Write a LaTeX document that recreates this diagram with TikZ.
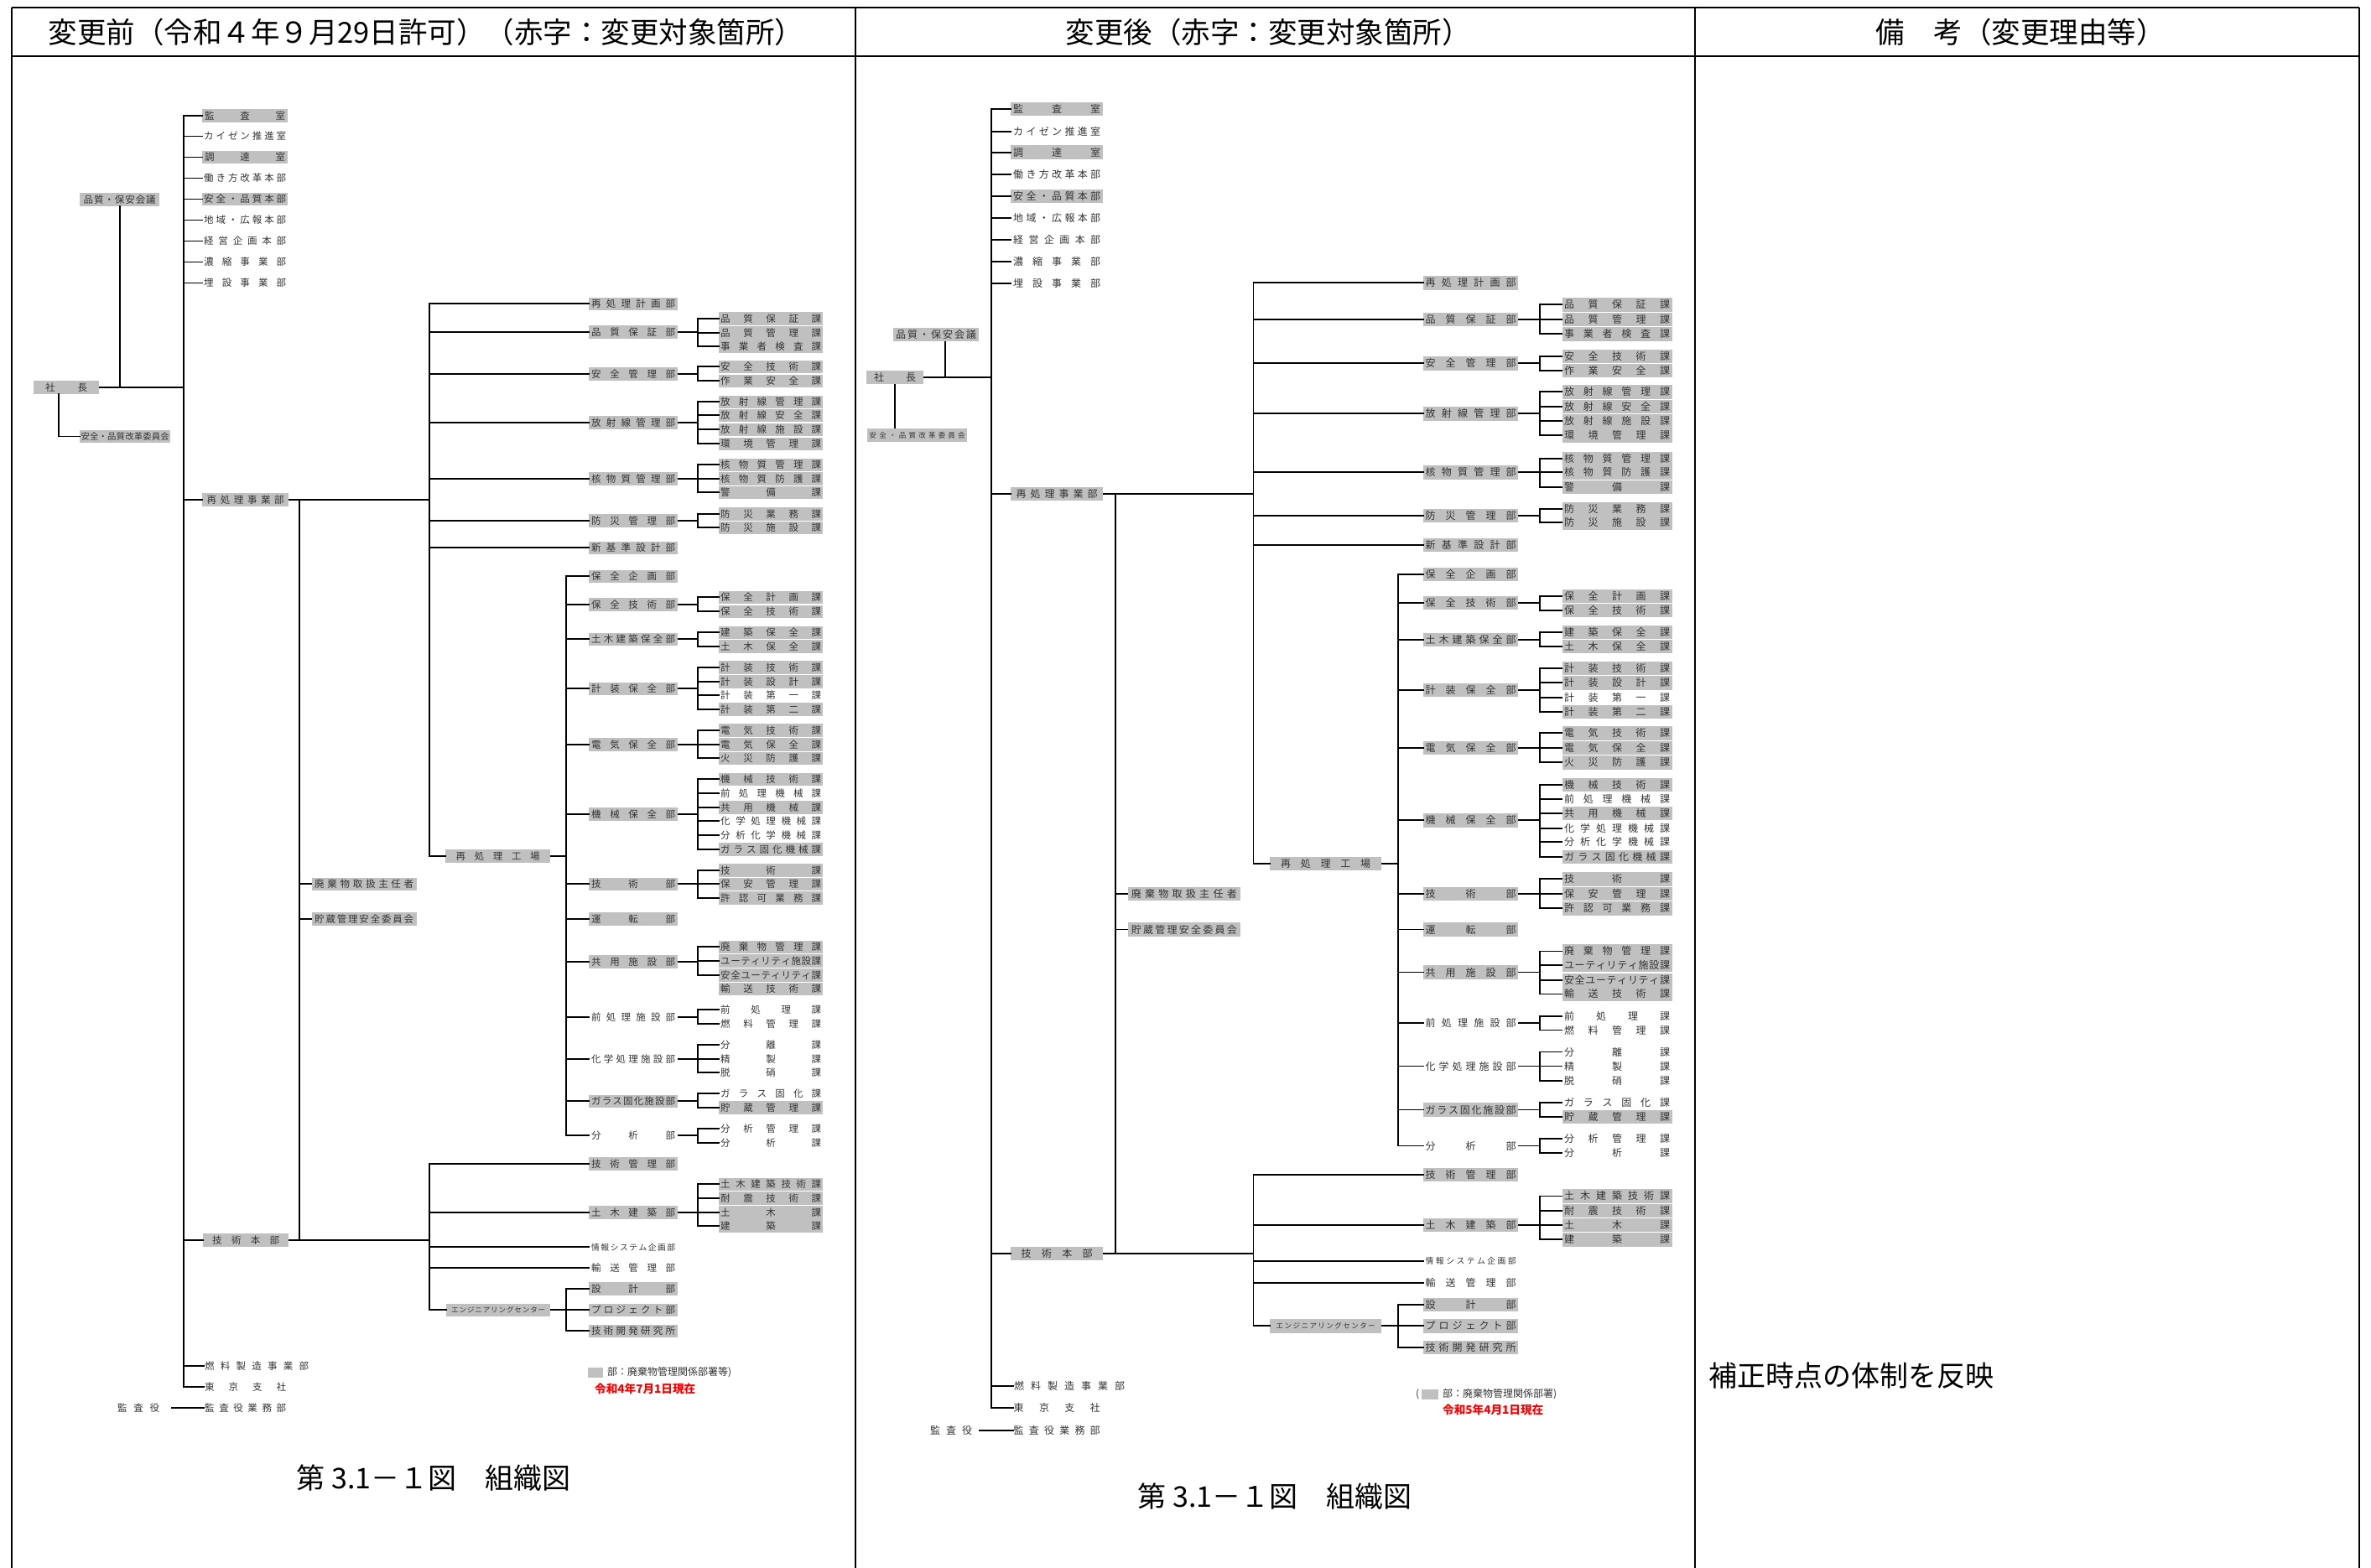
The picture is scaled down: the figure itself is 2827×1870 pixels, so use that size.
\documentclass[tikz,border=0pt]{standalone}
\usepackage{fontspec}
\setmainfont{Noto Sans CJK JP}
\definecolor{boxg}{HTML}{C0C0C0}
\definecolor{labc}{HTML}{333333}
\def\spr#1{\sprA#1\relax}
\def\sprA#1{#1\sprB}
\def\sprB#1{\ifx\relax#1\else\hfill#1\expandafter\sprB\fi}
\newcommand\olab[7][]{\node[labst,minimum width=#5pt,#1] (#2) at (#3,#4) {\makebox[#6pt][s]{\spr{#7}}};}
\newcommand\Lbu[4][]{\olab[#1]{#2}{702}{#3}{106}{100}{#4}}
\newcommand\Lka[4][]{\olab[#1]{#2}{857}{#3}{124}{120}{#4}}
\newcommand\Rbu[4][]{\olab[#1]{#2}{1697}{#3}{113}{108}{#4}}
\newcommand\Rka[4][]{\olab[#1]{#2}{1862.3}{#3}{131}{126}{#4}}
\newcommand\orgtree[5]{%
 \draw[conn] (#1.east) -- (#1.east -| #2);
 \draw[conn] (#3.west -| #2) -- (#4.west -| #2);
 \foreach \c in {#5} {\draw[conn] (\c.west -| #2) -- (\c.west);}
}
\begin{document}
\begin{tikzpicture}[x=1pt,y=-1pt,
 labst/.style={anchor=west, inner sep=0pt, minimum height=15.6pt, text=labc, font=\fontsize{11.5}{12}\selectfont},
 gb/.style={fill=boxg},
 fsm/.style={font=\fontsize{9.8}{10}\selectfont},
 fxs/.style={font=\fontsize{8.5}{9}\selectfont},
 conn/.style={line width=1.7pt, line cap=rect},
 frm/.style={line width=2.6pt},
 hdr/.style={font=\fontsize{34.5}{35}\selectfont, inner sep=0pt},
 captxt/.style={font=\fontsize{34}{34}\selectfont, inner sep=0pt},
 legt/.style={anchor=west, inner sep=0pt, text=labc, font=\fontsize{12}{12}\selectfont},
 redt/.style={anchor=west, inner sep=0pt, text=red, font=\bfseries\fontsize{13.6}{14}\selectfont}]
\useasboundingbox (0,0) rectangle (2827,1870);
\fill[white] (0,0) rectangle (2827,1870);
% ---------- frame ----------
\draw[frm] (14,9) -- (2813,9);
\draw[frm] (14,67) -- (2813,67);
\draw[frm] (14,9) -- (14,1870);
\draw[frm] (1020,9) -- (1020,1870);
\draw[frm] (2021,9) -- (2021,1870);
\draw[frm] (2813,9) -- (2813,1870);
\node[hdr] (h1) at (508,38) {変更前（令和４年９月29日許可）（赤字：変更対象箇所）};
\node[hdr] (h2) at (1512,38) {変更後（赤字：変更対象箇所）};
\node[hdr] (h3) at (2409,38) {備　考（変更理由等）};
\node[captxt] (capL) at (517,1763) {第 3.1－１図　組織図};
\node[captxt] (capR) at (1520,1785) {第 3.1－１図　組織図};
\node[captxt,anchor=west] (rem) at (2037,1641) {補正時点の体制を反映};

% ================= LEFT CHART =================
\coordinate (LB0) at (218.7,0);
\coordinate (LB1) at (512,0);
\coordinate (LB2) at (357,0);
\coordinate (LB4) at (832.3,0);
\coordinate (LB5) at (675,0);
\olab[gb]{Lt1}{241}{138}{102}{96}{監査室}
\olab{Lt2}{241}{162.5}{102}{98}{カイゼン推進室}
\olab[gb]{Lt3}{241}{187.5}{102}{96}{調達室}
\olab{Lt4}{241}{212.5}{102}{98}{働き方改革本部}
\olab[gb]{Lt5}{241}{237.5}{102}{98}{安全・品質本部}
\olab{Lt6}{241}{262.5}{102}{98}{地域・広報本部}
\olab{Lt7}{241}{287.5}{102}{98}{経営企画本部}
\olab{Lt8}{241}{312.5}{102}{98}{濃縮事業部}
\olab{Lt9}{241}{337.5}{102}{98}{埋設事業部}
\olab[gb]{Lsha}{40}{462}{78}{50}{社長}
\olab[gb]{Lhin}{95}{238}{95}{86}{品質・保安会議}
\olab[gb,font=\fontsize{10.4}{11}\selectfont]{Lkai}{95}{520.5}{108}{105}{安全・品質改革委員会}
\olab[gb]{Lsai}{241}{596}{103}{92}{再処理事業部}
\olab[gb]{Lghb}{242}{1479}{102}{80}{技術本部}
\olab{Lnen}{243}{1629}{126}{124}{燃料製造事業部}
\olab{Ltok}{243}{1654}{99}{97}{東京支社}
\olab{Lkyk}{140}{1679}{50}{50}{監査役}
\olab{Lkgm}{243}{1679}{99}{97}{監査役業務部}
\orgtree{Lsha}{LB0}{Lt1}{Ltok}{Lt1,Lt2,Lt3,Lt4,Lt5,Lt6,Lt7,Lt8,Lt9,Lsai,Lghb,Lnen,Ltok}
\draw[conn] (Lhin.south) -- (Lhin.south |- Lsha.east);
\coordinate (Lsv) at ([xshift=-9pt]Lsha.south);
\draw[conn] (Lkai.west) -| (Lsv);
\draw[conn] ([xshift=14pt]Lkyk.east) -- (Lkgm.west);
% 再処理事業部
\Lbu[gb]{Lb1}{362.3}{再処理計画部}
\Lbu[gb]{Lb2}{396}{品質保証部}
\Lbu[gb]{Lb3}{446}{安全管理部}
\Lbu[gb]{Lb4}{504}{放射線管理部}
\Lbu[gb]{Lb5}{570.7}{核物質管理部}
\Lbu[gb]{Lb6}{620.7}{防災管理部}
\Lbu[gb]{Lb7}{653.3}{新基準設計部}
\olab[gb]{Lkojo}{531}{1020.7}{125}{100}{再処理工場}
\orgtree{Lsai}{LB1}{Lb1}{Lkojo}{Lb1,Lb2,Lb3,Lb4,Lb5,Lb6,Lb7,Lkojo}
\Lka[gb]{Lk1}{380}{品質保証課}
\Lka[gb]{Lk2}{396.7}{品質管理課}
\Lka[gb]{Lk3}{412.7}{事業者検査課}
\orgtree{Lb2}{LB4}{Lk1}{Lk3}{Lk1,Lk2,Lk3}
\Lka[gb]{Lk4}{437.3}{安全技術課}
\Lka[gb]{Lk5}{454.3}{作業安全課}
\orgtree{Lb3}{LB4}{Lk4}{Lk5}{Lk4,Lk5}
\Lka[gb]{Lk6}{479.3}{放射線管理課}
\Lka[gb]{Lk7}{495.3}{放射線安全課}
\Lka[gb]{Lk8}{512.3}{放射線施設課}
\Lka[gb]{Lk9}{529.3}{環境管理課}
\orgtree{Lb4}{LB4}{Lk6}{Lk9}{Lk6,Lk7,Lk8,Lk9}
\Lka[gb]{Lk10}{554.3}{核物質管理課}
\Lka[gb]{Lk11}{570.7}{核物質防護課}
\Lka[gb]{Lk12}{587.3}{警備課}
\orgtree{Lb5}{LB4}{Lk10}{Lk12}{Lk10,Lk11,Lk12}
\Lka[gb]{Lk13}{612.7}{防災業務課}
\Lka[gb]{Lk14}{629.3}{防災施設課}
\orgtree{Lb6}{LB4}{Lk13}{Lk14}{Lk13,Lk14}
% 再処理工場
\Lbu[gb]{Lc1}{687.3}{保全企画部}
\Lbu[gb]{Lc2}{721}{保全技術部}
\Lbu[gb]{Lc3}{762.3}{土木建築保全部}
\Lbu[gb]{Lc4}{821.3}{計装保全部}
\Lbu[gb]{Lc5}{887.7}{電気保全部}
\Lbu[gb]{Lc6}{971}{機械保全部}
\Lbu[gb]{Lc7}{1054.3}{技術部}
\Lbu[gb]{Lc8}{1096}{運転部}
\Lbu[gb]{Lc9}{1146.7}{共用施設部}
\Lbu{Lc10}{1212.7}{前処理施設部}
\Lbu{Lc11}{1262.7}{化学処理施設部}
\Lbu[gb]{Lc12}{1313.3}{ガラス固化施設部}
\Lbu{Lc13}{1354.3}{分析部}
\orgtree{Lkojo}{LB5}{Lc1}{Lc13}{Lc1,Lc2,Lc3,Lc4,Lc5,Lc6,Lc7,Lc8,Lc9,Lc10,Lc11,Lc12,Lc13}
\Lka[gb]{Lm1}{712.3}{保全計画課}
\Lka[gb]{Lm2}{729.3}{保全技術課}
\orgtree{Lc2}{LB4}{Lm1}{Lm2}{Lm1,Lm2}
\Lka[gb]{Lm3}{754.3}{建築保全課}
\Lka[gb]{Lm4}{771}{土木保全課}
\orgtree{Lc3}{LB4}{Lm3}{Lm4}{Lm3,Lm4}
\Lka[gb]{Lm5}{796}{計装技術課}
\Lka[gb]{Lm6}{812.7}{計装設計課}
\Lka{Lm7}{829.3}{計装第一課}
\Lka[gb]{Lm8}{846}{計装第二課}
\orgtree{Lc4}{LB4}{Lm5}{Lm8}{Lm5,Lm6,Lm7,Lm8}
\Lka[gb]{Lm9}{871}{電気技術課}
\Lka[gb]{Lm10}{887.7}{電気保全課}
\Lka[gb]{Lm11}{904.3}{火災防護課}
\orgtree{Lc5}{LB4}{Lm9}{Lm11}{Lm9,Lm10,Lm11}
\Lka[gb]{Lm12}{929.3}{機械技術課}
\Lka{Lm13}{946}{前処理機械課}
\Lka[gb]{Lm14}{962.7}{共用機械課}
\Lka{Lm15}{979.3}{化学処理機械課}
\Lka{Lm16}{996}{分析化学機械課}
\Lka[gb]{Lm17}{1012.7}{ガラス固化機械課}
\orgtree{Lc6}{LB4}{Lm12}{Lm17}{Lm12,Lm13,Lm14,Lm15,Lm16,Lm17}
\Lka[gb]{Lm18}{1037.7}{技術課}
\Lka[gb]{Lm19}{1054.3}{保安管理課}
\Lka[gb]{Lm20}{1071}{許認可業務課}
\orgtree{Lc7}{LB4}{Lm18}{Lm20}{Lm18,Lm19,Lm20}
\Lka[gb]{Lm21}{1129.3}{廃棄物管理課}
\Lka[gb]{Lm22}{1146}{ユーティリティ施設課}
\Lka[gb]{Lm23}{1162.7}{安全ユーティリティ課}
\Lka[gb]{Lm24}{1179.3}{輸送技術課}
\orgtree{Lc9}{LB4}{Lm21}{Lm23}{Lm21,Lm22,Lm23}
\Lka{Lm25}{1204.3}{前処理課}
\Lka{Lm26}{1221}{燃料管理課}
\orgtree{Lc10}{LB4}{Lm25}{Lm26}{Lm25,Lm26}
\Lka{Lm27}{1246}{分離課}
\Lka{Lm28}{1262.7}{精製課}
\Lka{Lm29}{1279.3}{脱硝課}
\orgtree{Lc11}{LB4}{Lm27}{Lm29}{Lm27,Lm28,Lm29}
\Lka{Lm30}{1304.3}{ガラス固化課}
\Lka[gb]{Lm31}{1321}{貯蔵管理課}
\orgtree{Lc12}{LB4}{Lm30}{Lm31}{Lm30,Lm31}
\Lka{Lm32}{1346}{分析管理課}
\Lka{Lm33}{1362.7}{分析課}
\orgtree{Lc13}{LB4}{Lm32}{Lm33}{Lm32,Lm33}
% 357 line
\olab[gb]{Lhai}{371.5}{1054.3}{125}{118}{廃棄物取扱主任者}
\olab[gb]{Lcho}{371.5}{1096}{125}{118}{貯蔵管理安全委員会}
\draw[conn] (Lsai.east -| LB2) -- (Lghb.east -| LB2);
\foreach \c in {Lhai,Lcho} {\draw[conn] (\c.west -| LB2) -- (\c.west);}
% 技術本部
\Lbu[gb]{Ld1}{1387.7}{技術管理部}
\Lbu[gb]{Ld2}{1446}{土木建築部}
\Lbu[fsm]{Ld3}{1487.3}{情報システム企画部}
\Lbu{Ld4}{1512.3}{輸送管理部}
\olab[gb,fxs]{Lec}{532}{1562.3}{124}{112}{エンジニアリングセンター}
\orgtree{Lghb}{LB1}{Ld1}{Lec}{Ld1,Ld2,Ld3,Ld4,Lec}
\Lka[gb]{Ln1}{1412.3}{土木建築技術課}
\Lka[gb]{Ln2}{1429}{耐震技術課}
\Lka[gb]{Ln3}{1446}{土木課}
\Lka[gb]{Ln4}{1461.7}{建築課}
\orgtree{Ld2}{LB4}{Ln1}{Ln4}{Ln1,Ln2,Ln3,Ln4}
\Lbu[gb]{Le1}{1537}{設計部}
\Lbu[gb]{Le2}{1562.3}{プロジェクト部}
\Lbu[gb]{Le3}{1587.3}{技術開発研究所}
\orgtree{Lec}{LB5}{Le1}{Le3}{Le1,Le2,Le3}
% legend
\node[fill=boxg,minimum width=18pt,minimum height=12.6pt,inner sep=0pt,anchor=west] (Llg) at (701,1637) {};
\node[legt] (Llt) at (724,1637) {部：廃棄物管理関係部署等)};
\node[redt] (Lred) at (709,1656) {令和4年7月1日現在};

% ================= RIGHT CHART =================
\begin{scope}[labst/.append style={minimum height=16.4pt, font=\fontsize{12}{12}\selectfont}]
\coordinate (RB0) at (1182.3,0);
\coordinate (RB1) at (1494.6,0);
\coordinate (RB2) at (1330,0);
\coordinate (RB4) at (1835.7,0);
\coordinate (RB5) at (1667,0);
\olab[gb]{Rt1}{1205}{130}{110}{104}{監査室}
\olab{Rt2}{1205}{156.7}{110}{104}{カイゼン推進室}
\olab[gb]{Rt3}{1205}{181.7}{110}{104}{調達室}
\olab{Rt4}{1205}{208}{110}{104}{働き方改革本部}
\olab[gb]{Rt5}{1205}{234}{110}{104}{安全・品質本部}
\olab{Rt6}{1205}{260}{110}{104}{地域・広報本部}
\olab{Rt7}{1205}{286}{110}{104}{経営企画本部}
\olab{Rt8}{1205}{312}{110}{104}{濃縮事業部}
\olab{Rt9}{1205}{338}{110}{104}{埋設事業部}
\olab[gb]{Rsha}{1033}{450}{68}{50}{社長}
\olab[gb]{Rhin}{1065}{399}{102}{96}{品質・保安会議}
\olab[gb,fxs]{Rkai}{1034}{519}{119}{114}{安全・品質改革委員会}
\olab[gb]{Rsai}{1205}{589}{110}{97}{再処理事業部}
\olab[gb]{Rghb}{1205}{1495}{110}{85}{技術本部}
\olab{Rnen}{1208}{1653.3}{134}{132}{燃料製造事業部}
\olab{Rtok}{1208}{1679.3}{104}{103}{東京支社}
\olab{Rkyk}{1109}{1706}{50}{50}{監査役}
\olab{Rkgm}{1208}{1706}{104}{103}{監査役業務部}
\orgtree{Rsha}{RB0}{Rt1}{Rtok}{Rt1,Rt2,Rt3,Rt4,Rt5,Rt6,Rt7,Rt8,Rt9,Rsai,Rghb,Rnen,Rtok}
\coordinate (Rhv) at ([xshift=11pt]Rhin.south);
\draw[conn] (Rhv) -- (Rhv |- Rsha.east);
\draw[conn] (Rsha.south) -- (Rsha.south |- Rkai.north);
\draw[conn] ([xshift=8pt]Rkyk.east) -- (Rkgm.west);
% 再処理事業部
\Rbu[gb]{Rb1}{337.3}{再処理計画部}
\Rbu[gb]{Rb2}{381}{品質保証部}
\Rbu[gb]{Rb3}{433.3}{安全管理部}
\Rbu[gb]{Rb4}{493.3}{放射線管理部}
\Rbu[gb]{Rb5}{563.3}{核物質管理部}
\Rbu[gb]{Rb6}{615}{防災管理部}
\Rbu[gb]{Rb7}{650}{新基準設計部}
\olab[gb]{Rkojo}{1514}{1030}{133}{107}{再処理工場}
\orgtree{Rsai}{RB1}{Rb1}{Rkojo}{Rb1,Rb2,Rb3,Rb4,Rb5,Rb6,Rb7,Rkojo}
\Rka[gb]{Rk1}{363.3}{品質保証課}
\Rka[gb]{Rk2}{381}{品質管理課}
\Rka[gb]{Rk3}{398.3}{事業者検査課}
\orgtree{Rb2}{RB4}{Rk1}{Rk3}{Rk1,Rk2,Rk3}
\Rka[gb]{Rk4}{425}{安全技術課}
\Rka[gb]{Rk5}{441.7}{作業安全課}
\orgtree{Rb3}{RB4}{Rk4}{Rk5}{Rk4,Rk5}
\Rka[gb]{Rk6}{467.3}{放射線管理課}
\Rka[gb]{Rk7}{485}{放射線安全課}
\Rka[gb]{Rk8}{502.3}{放射線施設課}
\Rka[gb]{Rk9}{519.3}{環境管理課}
\orgtree{Rb4}{RB4}{Rk6}{Rk9}{Rk6,Rk7,Rk8,Rk9}
\Rka[gb]{Rk10}{546.7}{核物質管理課}
\Rka[gb]{Rk11}{563.3}{核物質防護課}
\Rka[gb]{Rk12}{580.7}{警備課}
\orgtree{Rb5}{RB4}{Rk10}{Rk12}{Rk10,Rk11,Rk12}
\Rka[gb]{Rk13}{606.7}{防災業務課}
\Rka[gb]{Rk14}{623.3}{防災施設課}
\orgtree{Rb6}{RB4}{Rk13}{Rk14}{Rk13,Rk14}
% 再処理工場
\Rbu[gb]{Rc1}{685}{保全企画部}
\Rbu[gb]{Rc2}{719}{保全技術部}
\Rbu[gb]{Rc3}{762.7}{土木建築保全部}
\Rbu[gb]{Rc4}{822.7}{計装保全部}
\Rbu[gb]{Rc5}{891.7}{電気保全部}
\Rbu[gb]{Rc6}{978.3}{機械保全部}
\Rbu[gb]{Rc7}{1066}{技術部}
\Rbu[gb]{Rc8}{1108.5}{運転部}
\Rbu[gb]{Rc9}{1159.5}{共用施設部}
\Rbu{Rc10}{1220}{前処理施設部}
\Rbu{Rc11}{1271.6}{化学処理施設部}
\Rbu[gb]{Rc12}{1323.5}{ガラス固化施設部}
\Rbu{Rc13}{1366.6}{分析部}
\orgtree{Rkojo}{RB5}{Rc1}{Rc13}{Rc1,Rc2,Rc3,Rc4,Rc5,Rc6,Rc7,Rc8,Rc9,Rc10,Rc11,Rc12,Rc13}
\Rka[gb]{Rm1}{711}{保全計画課}
\Rka[gb]{Rm2}{727.7}{保全技術課}
\orgtree{Rc2}{RB4}{Rm1}{Rm2}{Rm1,Rm2}
\Rka[gb]{Rm3}{754}{建築保全課}
\Rka[gb]{Rm4}{770.7}{土木保全課}
\orgtree{Rc3}{RB4}{Rm3}{Rm4}{Rm3,Rm4}
\Rka[gb]{Rm5}{796.7}{計装技術課}
\Rka[gb]{Rm6}{814.3}{計装設計課}
\Rka{Rm7}{831.7}{計装第一課}
\Rka[gb]{Rm8}{849}{計装第二課}
\orgtree{Rc4}{RB4}{Rm5}{Rm8}{Rm5,Rm6,Rm7,Rm8}
\Rka[gb]{Rm9}{874.3}{電気技術課}
\Rka[gb]{Rm10}{891.7}{電気保全課}
\Rka[gb]{Rm11}{909.3}{火災防護課}
\orgtree{Rc5}{RB4}{Rm9}{Rm11}{Rm9,Rm10,Rm11}
\Rka[gb]{Rm12}{935.7}{機械技術課}
\Rka{Rm13}{953.3}{前処理機械課}
\Rka[gb]{Rm14}{970}{共用機械課}
\Rka{Rm15}{987.7}{化学処理機械課}
\Rka{Rm16}{1004.3}{分析化学機械課}
\Rka[gb]{Rm17}{1021.7}{ガラス固化機械課}
\orgtree{Rc6}{RB4}{Rm12}{Rm17}{Rm12,Rm13,Rm14,Rm15,Rm16,Rm17}
\Rka[gb]{Rm18}{1048.3}{技術課}
\Rka[gb]{Rm19}{1066}{保安管理課}
\Rka[gb]{Rm20}{1083.3}{許認可業務課}
\orgtree{Rc7}{RB4}{Rm18}{Rm20}{Rm18,Rm19,Rm20}
\Rka[gb]{Rm21}{1134.4}{廃棄物管理課}
\Rka[gb]{Rm22}{1151}{ユーティリティ施設課}
\Rka[gb]{Rm23}{1168.7}{安全ユーティリティ課}
\Rka[gb]{Rm24}{1185.4}{輸送技術課}
\orgtree{Rc9}{RB4}{Rm21}{Rm24}{Rm21,Rm22,Rm23,Rm24}
\Rka{Rm25}{1211.8}{前処理課}
\Rka{Rm26}{1228.5}{燃料管理課}
\orgtree{Rc10}{RB4}{Rm25}{Rm26}{Rm25,Rm26}
\Rka{Rm27}{1254.5}{分離課}
\Rka{Rm28}{1271.6}{精製課}
\Rka{Rm29}{1289}{脱硝課}
\orgtree{Rc11}{RB4}{Rm27}{Rm29}{Rm27,Rm28,Rm29}
\Rka{Rm30}{1315}{ガラス固化課}
\Rka[gb]{Rm31}{1331.9}{貯蔵管理課}
\orgtree{Rc12}{RB4}{Rm30}{Rm31}{Rm30,Rm31}
\Rka{Rm32}{1358}{分析管理課}
\Rka{Rm33}{1375}{分析課}
\orgtree{Rc13}{RB4}{Rm32}{Rm33}{Rm32,Rm33}
% 1330 line
\olab[gb]{Rhai}{1344.6}{1066}{134}{126}{廃棄物取扱主任者}
\olab[gb]{Rcho}{1344.6}{1108.5}{134}{126}{貯蔵管理安全委員会}
\draw[conn] (Rsai.east -| RB2) -- (Rghb.east -| RB2);
\foreach \c in {Rhai,Rcho} {\draw[conn] (\c.west -| RB2) -- (\c.west);}
% 技術本部
\Rbu[gb]{Rd1}{1401}{技術管理部}
\Rbu[gb]{Rd2}{1460.8}{土木建築部}
\Rbu[fsm]{Rd3}{1503.9}{情報システム企画部}
\Rbu{Rd4}{1529.8}{輸送管理部}
\olab[gb,fxs]{Rec}{1514}{1581.3}{133}{118}{エンジニアリングセンター}
\orgtree{Rghb}{RB1}{Rd1}{Rec}{Rd1,Rd2,Rd3,Rd4,Rec}
\Rka[gb]{Rn1}{1426.4}{土木建築技術課}
\Rka[gb]{Rn2}{1444}{耐震技術課}
\Rka[gb]{Rn3}{1460.8}{土木課}
\Rka[gb]{Rn4}{1478.3}{建築課}
\orgtree{Rd2}{RB4}{Rn1}{Rn4}{Rn1,Rn2,Rn3,Rn4}
\Rbu[gb]{Re1}{1555.7}{設計部}
\Rbu[gb]{Re2}{1581.3}{プロジェクト部}
\Rbu[gb]{Re3}{1607}{技術開発研究所}
\orgtree{Rec}{RB5}{Re1}{Re3}{Re1,Re2,Re3}
\end{scope}
% legend
\node[legt] (Rlp) at (1688,1663) {(};
\node[fill=boxg,minimum width=20pt,minimum height=12.6pt,inner sep=0pt,anchor=west] (Rlg) at (1694.5,1663) {};
\node[legt] (Rlt) at (1720,1663) {部：廃棄物管理関係部署)};
\node[redt] (Rred) at (1720,1681.7) {令和5年4月1日現在};
\end{tikzpicture}
\end{document}
